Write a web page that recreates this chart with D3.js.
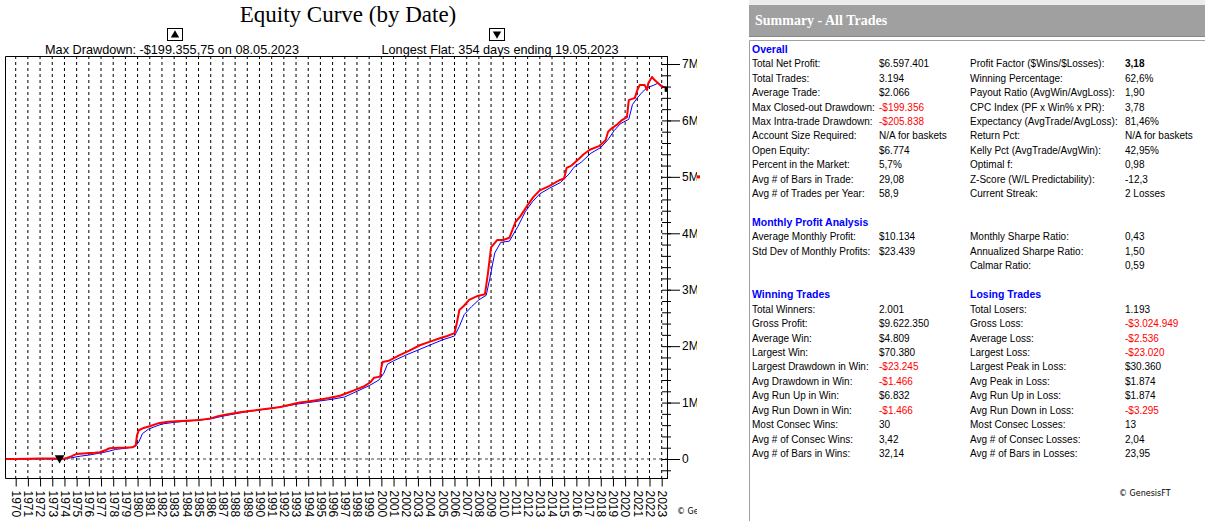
<!DOCTYPE html>
<html>
<head>
<meta charset="utf-8">
<script src="https://cdn.jsdelivr.net/npm/d3@7"></script>
<style>
	body { margin: 0; background: #fff; }
	svg { display: block; }
</style>
</head>
<body>
<svg id="svg" width="1205" height="521"></svg>
<script>
const svg = d3.select("#svg");

// equity data, in $ millions
const years = d3.range(1970, 2024);
const yMajor = [0, 1, 2, 3, 4, 5, 6, 7];
const redDates = [1969.12, 1970, 1971, 1972, 1973, 1973.9, 1974.2, 1974.6, 1975.0, 1975.8, 1976.5, 1976.9, 1977.4, 1977.7, 1978.4, 1979.0, 1979.6, 1979.85, 1979.95, 1980.1, 1980.5, 1981.0, 1981.8, 1982.5, 1983.2, 1984.0, 1985.1, 1986.0, 1986.6, 1987.3, 1988.4, 1989.2, 1990.3, 1991.0, 1991.7, 1992.5, 1993.3, 1994.0, 1994.9, 1995.7, 1996.6, 1997.2, 1997.8, 1998.6, 1999.1, 1999.4, 1999.9, 2000.0, 2000.1, 2000.6, 2001.5, 2002.3, 2003.2, 2004.0, 2004.8, 2005.4, 2006.0, 2006.2, 2006.4, 2006.8, 2007.2, 2007.9, 2008.5, 2008.75, 2009.0, 2009.5, 2010.0, 2010.5, 2011.0, 2011.4, 2012.0, 2012.5, 2013.0, 2013.8, 2014.6, 2015.0, 2015.2, 2015.6, 2016.1, 2016.6, 2017.1, 2017.9, 2018.4, 2018.6, 2018.9, 2019.3, 2019.7, 2020.15, 2020.3, 2020.8, 2021.0, 2021.2, 2021.6, 2021.8, 2021.9, 2022.2, 2022.4, 2022.6, 2023.0, 2023.41];
const redEquity = [0, 0, 0.005, 0.01, 0.01, 0.005, 0.02, 0.05, 0.09, 0.1, 0.11, 0.12, 0.16, 0.19, 0.2, 0.2, 0.21, 0.24, 0.42, 0.51, 0.55, 0.58, 0.64, 0.66, 0.67, 0.68, 0.69, 0.72, 0.76, 0.79, 0.83, 0.85, 0.88, 0.9, 0.92, 0.96, 1.0, 1.02, 1.05, 1.08, 1.12, 1.17, 1.22, 1.29, 1.36, 1.44, 1.46, 1.62, 1.72, 1.74, 1.84, 1.92, 2.02, 2.08, 2.14, 2.18, 2.23, 2.42, 2.64, 2.72, 2.82, 2.89, 2.92, 3.3, 3.75, 3.88, 3.88, 3.92, 4.2, 4.3, 4.5, 4.65, 4.76, 4.84, 4.94, 4.97, 5.16, 5.2, 5.3, 5.4, 5.48, 5.55, 5.65, 5.8, 5.86, 5.92, 6.0, 6.06, 6.36, 6.4, 6.54, 6.63, 6.63, 6.54, 6.66, 6.77, 6.72, 6.68, 6.6, 6.58];
const blueDates = [1969.12, 1973.9, 1974.5, 1975.3, 1976.0, 1976.8, 1977.5, 1978.2, 1979.0, 1979.8, 1980.1, 1980.4, 1980.9, 1981.5, 1982.0, 1983.0, 1984.0, 1985.0, 1986.0, 1987.0, 1988.0, 1989.0, 1990.0, 1991.0, 1992.0, 1993.0, 1994.0, 1995.0, 1996.0, 1997.0, 1998.0, 1999.0, 1999.8, 2000.2, 2000.5, 2001.0, 2002.0, 2003.0, 2004.0, 2005.0, 2006.0, 2006.4, 2006.8, 2007.4, 2008.0, 2008.6, 2008.9, 2009.3, 2009.8, 2010.5, 2011.2, 2011.8, 2012.4, 2013.0, 2013.8, 2014.7, 2015.4, 2015.8, 2016.4, 2017.2, 2018.0, 2018.6, 2019.1, 2019.6, 2020.3, 2020.6, 2021.0, 2021.4, 2021.8, 2022.3, 2022.7, 2023.0, 2023.41];
const blueEquity = [0, 0, 0.02, 0.05, 0.07, 0.1, 0.13, 0.17, 0.19, 0.22, 0.3, 0.45, 0.53, 0.58, 0.62, 0.65, 0.67, 0.69, 0.71, 0.76, 0.8, 0.84, 0.87, 0.9, 0.93, 0.97, 1.0, 1.03, 1.06, 1.1, 1.2, 1.3, 1.4, 1.52, 1.68, 1.74, 1.84, 1.93, 2.02, 2.11, 2.18, 2.35, 2.56, 2.7, 2.82, 2.9, 3.2, 3.65, 3.84, 3.86, 4.12, 4.38, 4.56, 4.7, 4.8, 4.9, 5.05, 5.17, 5.26, 5.42, 5.52, 5.66, 5.82, 5.94, 6.02, 6.28, 6.4, 6.5, 6.58, 6.62, 6.66, 6.62, 6.56];

// summary table
const overallRows = [
	["Total Net Profit:", "$6.597.401", "", "Profit Factor ($Wins/$Losses):", "3,18", "bold"],
	["Total Trades:", "3.194", "", "Winning Percentage:", "62,6%", ""],
	["Average Trade:", "$2.066", "", "Payout Ratio (AvgWin/AvgLoss):", "1,90", ""],
	["Max Closed-out Drawdown:", "-$199.356", "red", "CPC Index (PF x Win% x PR):", "3,78", ""],
	["Max Intra-trade Drawdown:", "-$205.838", "red", "Expectancy (AvgTrade/AvgLoss):", "81,46%", ""],
	["Account Size Required:", "N/A for baskets", "", "Return Pct:", "N/A for baskets", ""],
	["Open Equity:", "$6.774", "", "Kelly Pct (AvgTrade/AvgWin):", "42,95%", ""],
	["Percent in the Market:", "5,7%", "", "Optimal f:", "0,98", ""],
	["Avg # of Bars in Trade:", "29,08", "", "Z-Score (W/L Predictability):", "-12,3", ""],
	["Avg # of Trades per Year:", "58,9", "", "Current Streak:", "2 Losses", ""],
];
const monthlyRows = [
	["Average Monthly Profit:", "$10.134", "", "Monthly Sharpe Ratio:", "0,43", ""],
	["Std Dev of Monthly Profits:", "$23.439", "", "Annualized Sharpe Ratio:", "1,50", ""],
	["", "", "", "Calmar Ratio:", "0,59", ""],
];
const tradeRows = [
	["Total Winners:", "2.001", "", "Total Losers:", "1.193", ""],
	["Gross Profit:", "$9.622.350", "", "Gross Loss:", "-$3.024.949", "red"],
	["Average Win:", "$4.809", "", "Average Loss:", "-$2.536", "red"],
	["Largest Win:", "$70.380", "", "Largest Loss:", "-$23.020", "red"],
	["Largest Drawdown in Win:", "-$23.245", "red", "Largest Peak in Loss:", "$30.360", ""],
	["Avg Drawdown in Win:", "-$1.466", "red", "Avg Peak in Loss:", "$1.874", ""],
	["Avg Run Up in Win:", "$6.832", "", "Avg Run Up in Loss:", "$1.874", ""],
	["Avg Run Down in Win:", "-$1.466", "red", "Avg Run Down in Loss:", "-$3.295", "red"],
	["Most Consec Wins:", "30", "", "Most Consec Losses:", "13", ""],
	["Avg # of Consec Wins:", "3,42", "", "Avg # of Consec Losses:", "2,04", ""],
	["Avg # of Bars in Wins:", "32,14", "", "Avg # of Bars in Losses:", "23,95", ""],
];

const SANS = "'Liberation Sans', Arial, sans-serif";
const PLOT = { left: 5, right: 667, top: 56, bottom: 478 };

const x = d3.scaleLinear().domain([1970, 2023]).range([15.7, 661.7]);
const y = d3.scaleLinear().domain([0, 7]).range([459, 64]);

const chart = svg.append("g");
svg.append("clipPath").attr("id", "chartClip")
	.append("rect").attr("x", 0).attr("y", 0).attr("width", 697).attr("height", 521);
chart.attr("clip-path", "url(#chartClip)");

// title + drawdown captions
chart.append("text")
	.attr("x", 348).attr("y", 22)
	.attr("text-anchor", "middle")
	.attr("font-family", "'Liberation Serif', 'Times New Roman', serif")
	.attr("font-size", 23)
	.text("Equity Curve (by Date)");

const captions = [
	{ cx: 175, tx: 172, text: "Max Drawdown: -$199.355,75 on 08.05.2023", rot: 0 },
	{ cx: 497, tx: 500, text: "Longest Flat: 354 days ending 19.05.2023", rot: 180 },
];
for (const c of captions) {
	chart.append("rect")
		.attr("x", c.cx - 7.5).attr("y", 28.5)
		.attr("width", 15).attr("height", 12)
		.attr("fill", "#fff").attr("stroke", "#000");
	chart.append("path")
		.attr("d", d3.symbol(d3.symbolTriangle, 30)())
		.attr("transform", `translate(${c.cx},${c.rot ? 34 : 35}) rotate(${c.rot})`)
		.attr("fill", "#000");
	chart.append("text")
		.attr("x", c.tx).attr("y", 54)
		.attr("text-anchor", "middle")
		.attr("font-family", SANS).attr("font-size", 12.7)
		.text(c.text);
}

// year grid
chart.selectAll(".vgrid")
	.data(years)
	.join("line")
	.attr("class", "vgrid")
	.attr("x1", (d) => x(d)).attr("x2", (d) => x(d))
	.attr("y1", PLOT.top).attr("y2", PLOT.bottom)
	.attr("stroke", "#000")
	.attr("stroke-width", 1)
	.attr("stroke-dasharray", "3,3");

chart.append("line")
	.attr("x1", PLOT.left).attr("x2", PLOT.right)
	.attr("y1", y(0)).attr("y2", y(0))
	.attr("stroke", "#444")
	.attr("stroke-dasharray", "3,3");

// curves
const line = (dates, vals) =>
	d3.line().x((i) => x(dates[i])).y((i) => y(vals[i]))(d3.range(dates.length));

chart.append("path")
	.attr("d", line(blueDates, blueEquity))
	.attr("fill", "none").attr("stroke", "#0000ff").attr("stroke-width", 1);
chart.append("path")
	.attr("d", line(redDates, redEquity))
	.attr("fill", "none").attr("stroke", "#ff0000").attr("stroke-width", 2)
	.attr("stroke-linejoin", "round");

chart.append("path")
	.attr("d", d3.symbol(d3.symbolTriangle, 40)())
	.attr("transform", `translate(${x(1973.6)},${y(0) - 1}) rotate(180)`)
	.attr("fill", "#000");
chart.append("rect")
	.attr("x", x(2023.41) - 2).attr("y", y(6.56) - 2)
	.attr("width", 3).attr("height", 5)
	.attr("fill", "#000");

// frame
chart.append("path")
	.attr("d", `M${PLOT.right + 0.5},${PLOT.top + 0.5}H${PLOT.left + 0.5}V${PLOT.bottom + 0.5}H${PLOT.right + 0.5}`)
	.attr("fill", "none").attr("stroke", "#000");

// x axis
const xAxis = chart.append("g")
	.attr("transform", `translate(0,${PLOT.bottom + 0.5})`)
	.call(d3.axisBottom(x).tickValues(years).tickSize(8).tickFormat((d) => d));
xAxis.select(".domain").remove();
xAxis.selectAll("text")
	.attr("font-family", SANS).attr("font-size", 12).attr("fill", "#000")
	.attr("text-anchor", "start")
	.attr("x", 0).attr("y", 0).attr("dy", "0.35em")
	.attr("transform", "translate(0,12) rotate(90)");

// y axis
const yMinor = d3.range(-1, 36).map((d) => d * 0.2);
const yMinorAxis = chart.append("g")
	.attr("transform", `translate(${PLOT.right - 5},0)`)
	.call(d3.axisRight(y).tickValues(yMinor).tickSize(9).tickFormat(""));
yMinorAxis.select(".domain").remove();

const yAxis = chart.append("g")
	.attr("transform", `translate(${PLOT.right},0)`)
	.call(d3.axisRight(y).tickValues(yMajor).tickSize(13).tickPadding(2)
		.tickFormat((d) => (d === 0 ? "0" : d + "M")));
yAxis.select(".domain").remove();
yAxis.selectAll("text").attr("font-family", SANS).attr("font-size", 12).attr("fill", "#000");

chart.append("line")
	.attr("x1", PLOT.right + 0.5).attr("x2", PLOT.right + 0.5)
	.attr("y1", PLOT.top).attr("y2", PLOT.bottom + 1)
	.attr("stroke", "#000");

chart.append("text")
	.attr("x", 677).attr("y", 514)
	.attr("font-family", "'DejaVu Sans', sans-serif").attr("font-size", 8)
	.text("\u00a9 Gen");

svg.append("rect")
	.attr("x", 697).attr("y", y(5) - 1.5)
	.attr("width", 3).attr("height", 3)
	.attr("fill", "#ff0000");

// summary panel
const panel = svg.append("g");
panel.append("rect").attr("x", 749).attr("y", 0).attr("width", 456).attr("height", 5).attr("fill", "#ececec");
panel.append("rect").attr("x", 749).attr("y", 5).attr("width", 456).attr("height", 32).attr("fill", "#a0a0a0");
panel.append("line").attr("x1", 749).attr("x2", 1205).attr("y1", 36.5).attr("y2", 36.5).attr("stroke", "#888");
panel.append("text")
	.attr("x", 755).attr("y", 25)
	.attr("font-family", "'Liberation Serif', 'Times New Roman', serif")
	.attr("font-size", 14).attr("font-weight", "bold")
	.attr("fill", "#fff")
	.text("Summary - All Trades");
panel.append("path")
	.attr("d", "M1205,40.5H749.5V521")
	.attr("fill", "none").attr("stroke", "#a0a0a0");

const ROW = 14.43;
const rowY = (n) => 52.9 + n * ROW;
const headings = [
	{ n: 0, x: 752, text: "Overall" },
	{ n: 12, x: 752, text: "Monthly Profit Analysis" },
	{ n: 17, x: 752, text: "Winning Trades" },
	{ n: 17, x: 970, text: "Losing Trades" },
];
panel.selectAll(".head")
	.data(headings)
	.join("text")
	.attr("class", "head")
	.attr("x", (d) => d.x).attr("y", (d) => rowY(d.n))
	.attr("font-family", SANS).attr("font-size", 10.5).attr("font-weight", "bold")
	.attr("fill", "#0000ff")
	.text((d) => d.text);

const blocks = [
	{ start: 1, rows: overallRows },
	{ start: 13, rows: monthlyRows },
	{ start: 18, rows: tradeRows },
];
const cells = [];
for (const b of blocks) {
	b.rows.forEach((r, i) => {
		const n = b.start + i;
		cells.push({ n, x: 752, text: r[0], style: "" });
		cells.push({ n, x: 879, text: r[1], style: r[2] });
		cells.push({ n, x: 970, text: r[3], style: "" });
		cells.push({ n, x: 1125, text: r[4], style: r[5] });
	});
}
panel.selectAll(".cell")
	.data(cells)
	.join("text")
	.attr("class", "cell")
	.attr("x", (d) => d.x).attr("y", (d) => rowY(d.n))
	.attr("font-family", SANS).attr("font-size", 10)
	.attr("font-weight", (d) => (d.style === "bold" ? "bold" : "normal"))
	.attr("fill", (d) => (d.style === "red" ? "#ff0000" : "#000"))
	.text((d) => d.text);

panel.append("text")
	.attr("x", 1119).attr("y", 496)
	.attr("font-family", "'DejaVu Sans', sans-serif").attr("font-size", 8)
	.text("\u00a9 GenesisFT");
</script>
</body>
</html>
